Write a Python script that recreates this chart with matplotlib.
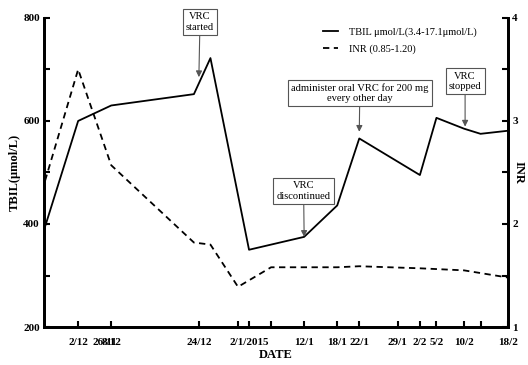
import matplotlib
matplotlib.use("Agg")
import matplotlib.pyplot as plt

# days counted from 26/11/2014
tbil_days = [0, 6, 12, 27, 30, 37, 47, 53, 57, 68, 71, 76, 79, 84]
tbil_vals = [395, 600, 630, 652, 722, 350, 375, 436, 566, 495, 606, 585, 575, 581]

inr_days = [0, 6, 12, 27, 30, 35, 41, 47, 53, 57, 68, 76, 84]
inr_vals = [2.42, 3.50, 2.57, 1.82, 1.80, 1.39, 1.58, 1.58, 1.58, 1.59, 1.57, 1.55, 1.48]

tick_days = [6, 12, 28, 35, 37, 41, 47, 53, 57, 64, 68, 71, 76, 79, 84]
tick_labels = ["2/12", "8/12", "24/12", "", "2/1/2015", "", "12/1", "18/1", "22/1",
               "29/1", "2/2", "5/2", "10/2", "", "18/2"]

# (text, arrow tip (day, tbil), box centre (day, tbil))
notes = [
    ("VRC\nstarted", (27.9, 685), (28.1, 792)),
    ("VRC\ndiscontinued", (47.0, 375), (46.9, 464)),
    ("administer oral VRC for 200 mg\nevery other day", (57.0, 579), (57.1, 654)),
    ("VRC\nstopped", (76.2, 589), (76.2, 677)),
]

plt.rcParams["font.family"] = ["Liberation Serif", "DejaVu Serif"]

fig = plt.figure(figsize=(5.28, 3.65), dpi=100)
ax = fig.add_axes([0.0833, 0.104, 0.879, 0.847])
ax2 = ax.twinx()

l1, = ax.plot(tbil_days, tbil_vals, color="black", lw=1.3, label="TBIL μmol/L(3.4-17.1μmol/L)")
l2, = ax2.plot(inr_days, inr_vals, color="black", lw=1.3, ls=(0, (3.5, 2.5)), label="INR (0.85-1.20)")

ax.set_xlim(-0.2, 84)
ax.set_ylim(200, 800)
ax2.set_ylim(1, 4)

for a in (ax, ax2):
    a.spines["top"].set_visible(False)
    for s in ("left", "right", "bottom"):
        a.spines[s].set_linewidth(2)

ax.set_yticks([200, 400, 600, 800])
ax.set_yticks([300, 500, 700], minor=True)
ax2.set_yticks([1, 2, 3, 4])
ax2.set_yticks([1.5, 2.5, 3.5], minor=True)
ax.set_xticks(tick_days, tick_labels)
ax.set_xticks([10.8], ["26/11"], minor=True)

ax.tick_params(axis="both", which="both", direction="in", length=4, width=1.5,
               labelsize=8, pad=3)
ax.tick_params(axis="x", which="both", pad=8)
ax.tick_params(axis="x", which="minor", length=0)
ax2.tick_params(axis="y", which="both", direction="in", length=4, width=1.5,
                labelsize=8, pad=3)
for lab in ax.get_xticklabels(which="both") + ax.get_yticklabels() + ax2.get_yticklabels():
    lab.set_fontweight("bold")

ax.set_xlabel("DATE", fontsize=9, fontweight="bold", labelpad=1)
ax.set_ylabel("TBIL(μmol/L)", fontsize=9, fontweight="bold", labelpad=2)
ax2.set_ylabel("INR", fontsize=9, fontweight="bold", rotation=270, labelpad=5)

ax.legend([l1, l2], [l1.get_label(), l2.get_label()], loc="upper right",
          bbox_to_anchor=(0.952, 1.0), frameon=False, fontsize=7.5, handlelength=1.5,
          handletextpad=1.0, labelspacing=0.75)

for text, tip, box in notes:
    ax.annotate(text, xy=tip, xytext=box, ha="center", va="center", fontsize=7.6,
                multialignment="center",
                bbox=dict(boxstyle="square,pad=0.3", fc="white", ec="#555555", lw=0.8),
                arrowprops=dict(arrowstyle="-|>", color="#555555", lw=0.8,
                                mutation_scale=9, shrinkA=0, shrinkB=0))

fig.savefig("out.png", dpi=100)
